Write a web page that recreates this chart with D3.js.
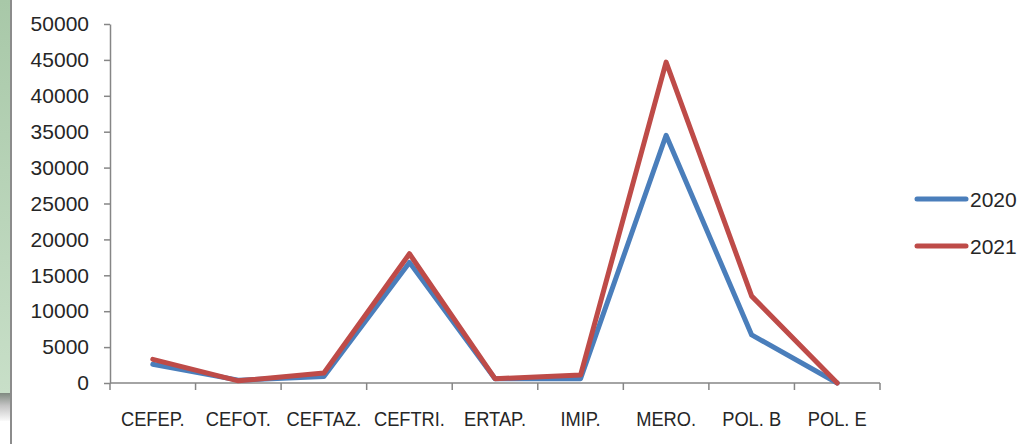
<!DOCTYPE html>
<html>
<head>
<meta charset="utf-8">
<script src="https://cdn.jsdelivr.net/npm/d3@7"></script>
<style>
  html, body { margin: 0; padding: 0; background: #fff; }
  svg { display: block; }
</style>
</head>
<body>
<svg id="chart" width="1023" height="444"></svg>
<script>
// Antibiotic consumption by year
const categories = ["CEFEP.", "CEFOT.", "CEFTAZ.", "CEFTRI.", "ERTAP.", "IMIP.", "MERO.", "POL. B", "POL. E"];
const values2020 = [2600, 400, 900, 16800, 600, 600, 34500, 6700, 0];
const values2021 = [3300, 300, 1400, 18000, 600, 1100, 44700, 12100, 0];
const seriesNames = ["2020", "2021"];
const seriesColors = ["#4a7ebb", "#be4b48"];
const yTicks = [0, 5000, 10000, 15000, 20000, 25000, 30000, 35000, 40000, 45000, 50000];

const svg = d3.select("#chart");
const font = "'Liberation Sans', Arial, sans-serif";
const textColor = "#262626";

// Green side panel with its shadow edge
const defs = svg.append("defs");
const grad = defs.append("linearGradient").attr("id", "panel").attr("x1", 0).attr("x2", 0).attr("y1", 0).attr("y2", 1);
grad.append("stop").attr("offset", "0%").attr("stop-color", "#a8c8a8");
grad.append("stop").attr("offset", "100%").attr("stop-color", "#c8dfc8");
svg.append("rect").attr("x", 0).attr("y", 0).attr("width", 10).attr("height", 393).attr("fill", "url(#panel)");
const sh = defs.append("linearGradient").attr("id", "shadow").attr("x1", 0).attr("x2", 0).attr("y1", 0).attr("y2", 1);
sh.append("stop").attr("offset", "0%").attr("stop-color", "#7f8a80");
sh.append("stop").attr("offset", "45%").attr("stop-color", "#c4c4c4");
sh.append("stop").attr("offset", "100%").attr("stop-color", "#fafafa");
svg.append("rect").attr("x", 0).attr("y", 393).attr("width", 10).attr("height", 28).attr("fill", "url(#shadow)");
svg.append("line").attr("x1", 11).attr("x2", 11).attr("y1", 0).attr("y2", 444)
  .attr("stroke", "#8c8c8c").attr("stroke-width", 2);

const plot = { left: 110, right: 880, top: 24, bottom: 383 };

const x = d3.scaleBand().domain(categories).range([plot.left, plot.right]).padding(0);
const y = d3.scaleLinear().domain([0, 50000]).range([plot.bottom, plot.top]);

const axisColor = "#868686";

// Y axis
const yAxis = svg.append("g").attr("transform", `translate(${plot.left},0)`)
  .call(d3.axisLeft(y).tickValues(yTicks).tickSize(6).tickSizeOuter(0).tickPadding(15).tickFormat(d3.format("d")));
yAxis.select(".domain").attr("stroke", axisColor).attr("stroke-width", 1.5);
yAxis.selectAll(".tick line").attr("stroke", axisColor).attr("stroke-width", 1.5);
yAxis.selectAll(".tick text").attr("fill", textColor).style("font-family", font).style("font-size", "21px");

// X axis with boundary ticks between categories
const xAxisG = svg.append("g").attr("transform", `translate(0,${plot.bottom})`);
xAxisG.append("line").attr("x1", plot.left).attr("x2", plot.right).attr("y1", 0).attr("y2", 0)
  .attr("stroke", axisColor).attr("stroke-width", 1.5);
const bounds = categories.map(c => x(c)).concat([plot.right]);
xAxisG.selectAll("line.tk").data(bounds).join("line").attr("class", "tk")
  .attr("x1", d => d).attr("x2", d => d).attr("y1", 0).attr("y2", 7)
  .attr("stroke", axisColor).attr("stroke-width", 1.5);
// Category labels, set slightly condensed
xAxisG.selectAll("text").data(categories).join("text")
  .attr("transform", d => `translate(${x(d) + x.bandwidth() / 2},43) scale(0.87,1)`)
  .attr("text-anchor", "middle").attr("fill", textColor)
  .style("font-family", font).style("font-size", "21px")
  .text(d => d);

// Series lines
const line = d3.line().x((d, i) => x(categories[i]) + x.bandwidth() / 2).y(d => y(d));
[values2020, values2021].forEach((vals, k) => {
  svg.append("path").datum(vals).attr("d", line)
    .attr("fill", "none").attr("stroke", seriesColors[k]).attr("stroke-width", 5)
    .attr("stroke-linejoin", "round").attr("stroke-linecap", "round");
});

// Legend
const legend = svg.append("g");
seriesNames.forEach((name, k) => {
  const ly = 199 + k * 47;
  legend.append("line").attr("x1", 917).attr("x2", 966).attr("y1", ly).attr("y2", ly)
    .attr("stroke", seriesColors[k]).attr("stroke-width", 5).attr("stroke-linecap", "round");
  legend.append("text").attr("x", 970).attr("y", ly).attr("dy", "0.36em")
    .attr("fill", textColor).style("font-family", font).style("font-size", "21px").text(name);
});
</script>
</body>
</html>
